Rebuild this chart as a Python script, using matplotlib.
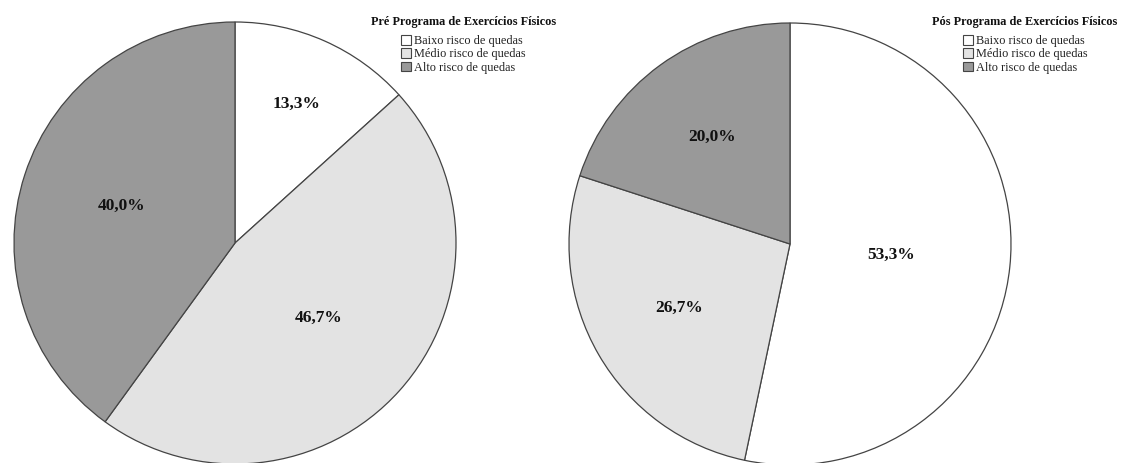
import matplotlib
matplotlib.use("Agg")
import matplotlib.pyplot as plt
import numpy as np

categories = ["Baixo risco de quedas", "Médio risco de quedas", "Alto risco de quedas"]
pre_values = [13.3, 46.7, 40.0]
pos_values = [53.3, 26.7, 20.0]
pre_title = "Pré Programa de Exercícios Físicos"
pos_title = "Pós Programa de Exercícios Físicos"

colors = ["#ffffff", "#e3e3e3", "#999999"]
plt.rcParams['font.family'] = ['Liberation Serif', 'DejaVu Serif']

W, H = 1122, 463
fig = plt.figure(figsize=(W / 100, H / 100), dpi=100)


def fmt(p):
    return ("%.1f%%" % p).replace(".", ",")


def draw(cx, cy, r, values, label_dist, title, title_cx, title_cy, leg_x, leg_top):
    ax = fig.add_axes([(cx - r) / W, (H - cy - r) / H, 2 * r / W, 2 * r / H])
    wedges, texts, autotexts = ax.pie(
        values, colors=colors, startangle=90, counterclock=False,
        autopct=fmt, pctdistance=0.5,
        wedgeprops=dict(edgecolor="#444444", linewidth=0.9),
        textprops=dict(fontsize=12.5, fontweight="bold", color="#111111"))
    for w, t, d in zip(wedges, autotexts, label_dist):
        ang = np.deg2rad((w.theta1 + w.theta2) / 2)
        t.set_position((d * np.cos(ang), d * np.sin(ang)))
    for w in wedges:
        w.set_clip_on(False)
    ax.set_xlim(-1, 1)
    ax.set_ylim(-1, 1)
    ax.set_axis_off()
    fig.text(title_cx / W, 1 - title_cy / H, title, ha="center", va="center",
             fontsize=8.8, fontweight="bold", color="#111111")
    leg = fig.legend(wedges, categories,
                     loc="upper left",
                     bbox_to_anchor=(leg_x / W, 1 - leg_top / H),
                     frameon=False, fontsize=8.8, borderaxespad=0.0,
                     handlelength=0.85, handleheight=0.85, handletextpad=0.2,
                     labelspacing=0.1, borderpad=0.0)
    for h in leg.legend_handles:
        h.set_edgecolor("#444444")
        h.set_linewidth(0.8)
    for t in leg.get_texts():
        t.set_color("#222222")
    return ax


draw(235, 243, 221, pre_values, [0.69, 0.51, 0.54], pre_title, 464, 22, 401, 35)
draw(790, 244, 221, pos_values, [0.46, 0.58, 0.60], pos_title, 1025, 22, 963, 35)

fig.savefig("out.png", dpi=100, facecolor="white")
